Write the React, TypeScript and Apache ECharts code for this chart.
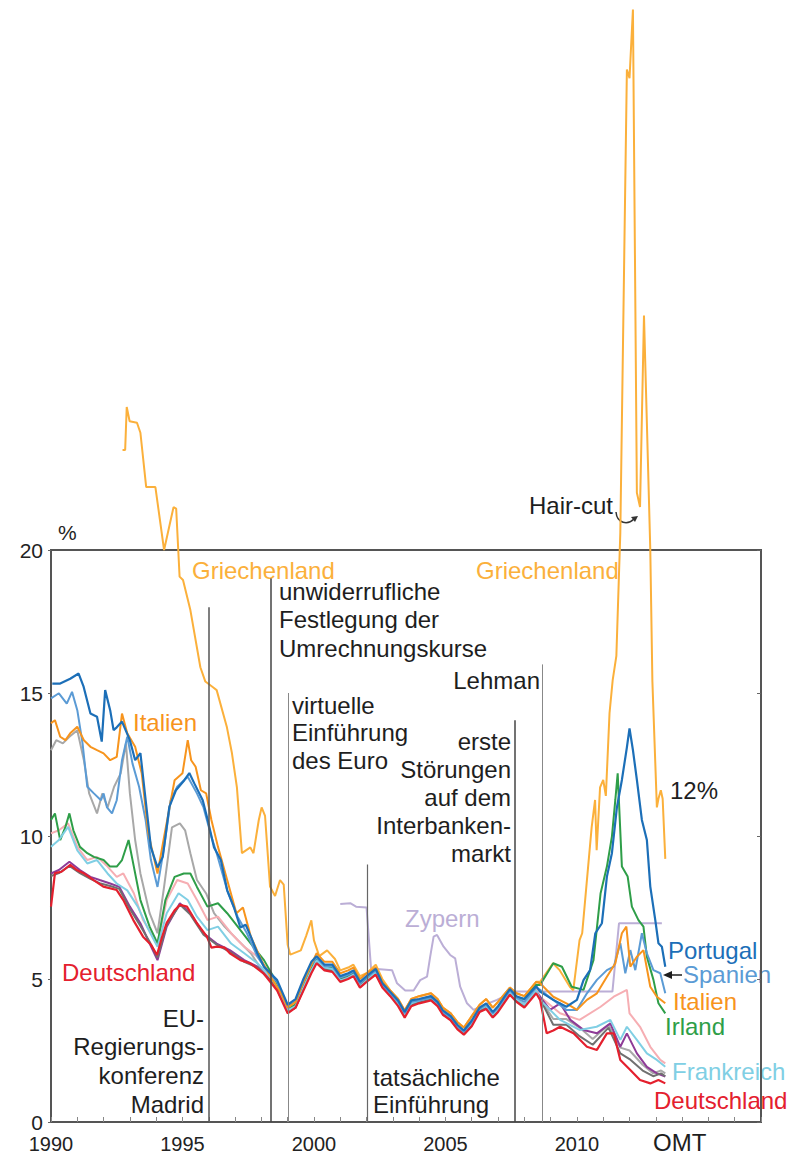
import React, { useEffect, useRef } from "react";
import * as echarts from "echarts";

type P = [number, number];

const labelYears = [1990, 1995, 2000, 2005, 2010];

const griechenland: P[] = [
  [1992.72, 23.5], [1992.82, 23.5], [1992.88, 25.0], [1992.99, 24.5], [1993.27, 24.45], [1993.4, 24.1],
  [1993.62, 22.2], [1993.97, 22.2], [1994.3, 20.0], [1994.66, 21.5], [1994.76, 21.45], [1994.89, 19.07],
  [1995.02, 18.95], [1995.3, 17.9], [1995.68, 15.9], [1995.87, 15.4], [1996.16, 15.2], [1996.3, 15.1],
  [1996.69, 13.8], [1996.88, 12.9], [1997.07, 11.7], [1997.26, 9.4], [1997.58, 9.6], [1997.7, 9.4],
  [1997.9, 10.55], [1998.01, 11.0], [1998.14, 10.7], [1998.33, 8.23], [1998.52, 7.9], [1998.71, 8.46],
  [1998.85, 8.3], [1999.0, 6.2], [1999.1, 5.85], [1999.5, 6.0], [1999.7, 6.5], [1999.9, 7.05],
  [2000.0, 6.35], [2000.2, 5.8], [2000.5, 6.0], [2000.8, 5.7], [2001.0, 5.3], [2001.3, 5.4],
  [2001.5, 5.5], [2001.75, 5.1], [2002.0, 5.2], [2002.35, 5.5], [2002.6, 5.0], [2002.9, 4.6],
  [2003.2, 4.3], [2003.45, 3.9], [2003.7, 4.3], [2004.0, 4.4], [2004.45, 4.5], [2004.7, 4.3],
  [2004.9, 4.0], [2005.2, 3.8], [2005.45, 3.5], [2005.7, 3.3], [2006.0, 3.7], [2006.3, 4.1],
  [2006.55, 4.3], [2006.8, 4.0], [2007.0, 4.2], [2007.45, 4.7], [2007.7, 4.5], [2008.0, 4.4],
  [2008.45, 4.9], [2008.6, 4.9], [2009.09, 5.55], [2009.35, 5.3], [2009.73, 4.73], [2009.86, 4.6],
  [2010.1, 6.36], [2010.2, 6.6], [2010.37, 8.35], [2010.56, 10.3], [2010.69, 11.26], [2010.75, 9.5],
  [2010.88, 11.7], [2011.0, 11.96], [2011.1, 11.4], [2011.24, 14.3], [2011.36, 15.45], [2011.5, 16.3],
  [2011.65, 20.6], [2011.9, 36.8], [2012.0, 36.5], [2012.13, 38.9], [2012.28, 22.0], [2012.4, 21.5],
  [2012.55, 28.2], [2012.79, 20.0], [2012.87, 15.4], [2013.04, 11.0], [2013.1, 11.3], [2013.19, 11.6],
  [2013.26, 11.3], [2013.36, 9.2],
];

const zypern: P[] = [
  [2001.0, 7.62], [2001.38, 7.65], [2001.6, 7.53], [2002.0, 7.5], [2002.17, 5.37], [2002.97, 5.31],
  [2003.16, 4.85], [2003.47, 4.6], [2003.79, 4.6], [2004.04, 4.96], [2004.3, 5.08], [2004.42, 5.78],
  [2004.55, 6.48], [2004.68, 6.54], [2004.93, 6.13], [2005.18, 5.84], [2005.37, 5.72], [2005.56, 4.73],
  [2005.82, 4.15], [2006.07, 3.92], [2006.5, 4.1], [2006.96, 4.27], [2007.46, 4.5], [2007.7, 4.56],
  [2011.35, 4.56], [2011.6, 6.95], [2013.23, 6.95],
];

const portugal: P[] = [
  [1990.05, 15.33], [1990.35, 15.33], [1990.73, 15.5], [1991.05, 15.68], [1991.24, 15.22], [1991.5, 14.28],
  [1991.75, 14.17], [1991.93, 13.3], [1992.06, 15.1], [1992.25, 14.4], [1992.38, 13.7], [1992.5, 13.8],
  [1992.7, 14.0], [1993.0, 13.35], [1993.2, 12.65], [1993.4, 12.9], [1993.6, 11.25], [1993.8, 9.6],
  [1994.05, 8.9], [1994.25, 9.27], [1994.5, 11.02], [1994.75, 11.6], [1995.07, 11.95], [1995.26, 12.2],
  [1995.45, 11.84], [1995.77, 11.25], [1995.96, 10.56], [1996.2, 9.6], [1996.46, 9.16], [1996.7, 8.1],
  [1996.96, 7.5], [1997.2, 6.8], [1997.4, 6.9], [1997.6, 6.48], [1997.85, 5.9], [1998.1, 5.43],
  [1998.6, 4.96], [1999.0, 4.1], [1999.3, 4.3], [1999.6, 5.0], [1999.9, 5.6], [2000.1, 5.8],
  [2000.4, 5.5], [2000.7, 5.5], [2001.0, 5.1], [2001.3, 5.2], [2001.5, 5.3], [2001.75, 4.9],
  [2002.0, 5.1], [2002.35, 5.35], [2002.6, 4.85], [2002.9, 4.55], [2003.2, 4.25], [2003.45, 3.85],
  [2003.7, 4.25], [2004.0, 4.3], [2004.45, 4.4], [2004.7, 4.2], [2004.9, 3.9], [2005.2, 3.7],
  [2005.45, 3.4], [2005.7, 3.2], [2006.0, 3.55], [2006.3, 4.0], [2006.55, 4.15], [2006.8, 3.85],
  [2007.0, 4.05], [2007.45, 4.65], [2007.7, 4.4], [2008.0, 4.3], [2008.45, 4.75], [2008.6, 4.56],
  [2009.1, 4.27], [2009.6, 4.03], [2010.0, 4.27], [2010.25, 4.96], [2010.5, 5.31], [2010.7, 6.6],
  [2010.95, 6.95], [2011.14, 8.58], [2011.33, 9.4], [2011.52, 11.0], [2011.71, 11.96], [2011.9, 13.1],
  [2012.0, 13.76], [2012.13, 13.0], [2012.28, 11.96], [2012.47, 10.56], [2012.66, 9.86], [2012.79, 8.23],
  [2012.98, 7.06], [2013.1, 6.25], [2013.23, 6.13], [2013.36, 5.43],
];

const spanien: P[] = [
  [1990.0, 14.81], [1990.3, 14.99], [1990.6, 14.63], [1990.8, 15.04], [1991.0, 14.4], [1991.2, 13.24],
  [1991.38, 11.72], [1991.63, 11.49], [1991.9, 11.25], [1992.0, 11.49], [1992.13, 11.0], [1992.32, 10.79],
  [1992.5, 11.25], [1992.7, 12.65], [1992.9, 13.47], [1993.1, 12.53], [1993.35, 11.72], [1993.6, 10.55],
  [1993.8, 9.16], [1994.05, 8.22], [1994.3, 9.6], [1994.55, 11.25], [1994.8, 11.72], [1995.2, 12.07],
  [1995.55, 11.49], [1995.8, 11.0], [1996.1, 9.97], [1996.3, 9.4], [1996.7, 8.1], [1997.1, 7.17],
  [1997.45, 6.6], [1997.85, 5.78], [1998.2, 5.31], [1998.6, 4.9], [1999.0, 4.05], [1999.3, 4.2],
  [1999.6, 4.9], [1999.9, 5.5], [2000.1, 5.75], [2000.4, 5.45], [2000.7, 5.45], [2001.0, 5.05],
  [2001.3, 5.15], [2001.5, 5.25], [2001.75, 4.85], [2002.0, 5.05], [2002.35, 5.3], [2002.6, 4.8],
  [2002.9, 4.5], [2003.2, 4.2], [2003.45, 3.8], [2003.7, 4.2], [2004.0, 4.25], [2004.45, 4.35],
  [2004.7, 4.15], [2004.9, 3.85], [2005.2, 3.65], [2005.45, 3.35], [2005.7, 3.15], [2006.0, 3.5],
  [2006.3, 3.95], [2006.55, 4.1], [2006.8, 3.8], [2007.0, 4.0], [2007.45, 4.6], [2007.7, 4.35],
  [2008.0, 4.2], [2008.45, 4.7], [2008.6, 4.62], [2009.1, 4.27], [2009.6, 3.92], [2010.0, 3.92],
  [2010.38, 4.5], [2010.76, 4.97], [2011.14, 5.31], [2011.4, 5.43], [2011.65, 6.25], [2011.84, 5.2],
  [2012.03, 6.01], [2012.22, 5.31], [2012.47, 6.6], [2012.66, 5.9], [2012.91, 5.31], [2013.17, 5.2],
  [2013.36, 4.5],
];

const italien: P[] = [
  [1990.0, 13.94], [1990.15, 14.05], [1990.35, 13.47], [1990.55, 13.35], [1990.73, 13.59], [1991.0, 13.82],
  [1991.25, 13.35], [1991.5, 13.12], [1991.75, 13.0], [1992.0, 12.89], [1992.25, 12.65], [1992.5, 12.77],
  [1992.7, 14.28], [1992.9, 13.59], [1993.2, 13.12], [1993.45, 12.19], [1993.7, 10.1], [1994.05, 8.69],
  [1994.3, 9.97], [1994.7, 11.95], [1995.0, 12.19], [1995.2, 13.35], [1995.33, 12.65], [1995.5, 12.42],
  [1995.7, 11.6], [1995.9, 11.49], [1996.1, 10.56], [1996.35, 9.62], [1996.7, 8.46], [1997.05, 7.3],
  [1997.3, 7.5], [1997.6, 6.48], [1998.0, 5.66], [1998.35, 5.08], [1998.75, 4.5], [1999.0, 4.0],
  [1999.3, 4.2], [1999.6, 4.9], [1999.9, 5.5], [2000.1, 5.9], [2000.4, 5.6], [2000.7, 5.6],
  [2001.0, 5.2], [2001.3, 5.3], [2001.5, 5.4], [2001.75, 5.0], [2002.0, 5.2], [2002.35, 5.4],
  [2002.6, 4.9], [2002.9, 4.6], [2003.2, 4.3], [2003.45, 3.9], [2003.7, 4.3], [2004.0, 4.4],
  [2004.45, 4.5], [2004.7, 4.3], [2004.9, 4.0], [2005.2, 3.8], [2005.45, 3.5], [2005.7, 3.3],
  [2006.0, 3.7], [2006.3, 4.1], [2006.55, 4.3], [2006.8, 4.0], [2007.0, 4.2], [2007.45, 4.7],
  [2007.7, 4.5], [2008.0, 4.4], [2008.45, 4.9], [2008.6, 4.85], [2009.1, 4.38], [2009.6, 4.15],
  [2010.0, 3.92], [2010.38, 4.27], [2010.76, 4.5], [2011.14, 5.08], [2011.46, 5.55], [2011.71, 6.6],
  [2011.88, 6.83], [2012.03, 5.43], [2012.28, 5.78], [2012.53, 6.01], [2012.79, 4.73], [2013.04, 4.38],
  [2013.36, 4.15],
];

const grau: P[] = [
  [1990.0, 13.0], [1990.2, 13.35], [1990.45, 13.24], [1990.7, 13.47], [1991.0, 13.7], [1991.25, 12.65],
  [1991.45, 11.49], [1991.75, 10.79], [1991.95, 11.49], [1992.15, 11.0], [1992.4, 11.72], [1992.65, 12.19],
  [1992.85, 13.24], [1993.0, 11.49], [1993.2, 9.86], [1993.4, 8.69], [1993.75, 7.3], [1994.05, 6.6],
  [1994.3, 8.22], [1994.6, 10.3], [1994.9, 10.44], [1995.1, 10.2], [1995.3, 9.4], [1995.55, 8.46],
  [1995.9, 7.99], [1996.2, 7.3], [1996.6, 6.83], [1997.1, 6.36], [1997.6, 5.9], [1998.1, 5.2],
  [1998.6, 4.73], [1999.0, 3.95], [1999.3, 4.1], [1999.6, 4.75], [1999.9, 5.35], [2000.1, 5.7],
  [2000.4, 5.4], [2000.7, 5.4], [2001.0, 5.0], [2001.3, 5.1], [2001.5, 5.2], [2001.75, 4.8],
  [2002.0, 5.0], [2002.35, 5.25], [2002.6, 4.75], [2002.9, 4.45], [2003.2, 4.15], [2003.45, 3.75],
  [2003.7, 4.15], [2004.0, 4.25], [2004.45, 4.35], [2004.7, 4.15], [2004.9, 3.85], [2005.2, 3.65],
  [2005.45, 3.35], [2005.7, 3.15], [2006.0, 3.45], [2006.3, 3.95], [2006.55, 4.05], [2006.8, 3.75],
  [2007.0, 3.95], [2007.45, 4.55], [2007.7, 4.3], [2008.0, 4.1], [2008.45, 4.6], [2008.6, 4.3],
  [2009.1, 3.6], [2009.6, 3.6], [2010.1, 3.3], [2010.6, 2.9], [2011.2, 3.4], [2011.65, 2.6],
  [2012.0, 2.5], [2012.5, 2.0], [2012.9, 1.7], [2013.2, 1.8], [2013.36, 1.7],
];

const irland: P[] = [
  [1990.0, 10.56], [1990.15, 10.79], [1990.35, 9.86], [1990.55, 10.32], [1990.7, 10.79], [1990.85, 10.2],
  [1991.1, 9.62], [1991.38, 9.4], [1991.63, 9.27], [1992.0, 9.16], [1992.25, 8.93], [1992.5, 8.93],
  [1992.7, 9.16], [1992.95, 9.86], [1993.15, 8.93], [1993.4, 7.76], [1993.75, 6.83], [1994.05, 6.24],
  [1994.35, 7.76], [1994.7, 8.57], [1995.05, 8.69], [1995.3, 8.69], [1995.55, 8.22], [1995.95, 7.53],
  [1996.35, 7.65], [1996.7, 7.3], [1997.1, 6.83], [1997.6, 6.24], [1998.1, 5.66], [1998.6, 4.85],
  [1999.0, 3.95], [1999.3, 4.1], [1999.6, 4.75], [1999.9, 5.35], [2000.1, 5.7], [2000.4, 5.4],
  [2000.7, 5.4], [2001.0, 5.0], [2001.3, 5.1], [2001.5, 5.2], [2001.75, 4.8], [2002.0, 5.0],
  [2002.35, 5.25], [2002.6, 4.75], [2002.9, 4.45], [2003.2, 4.15], [2003.45, 3.75], [2003.7, 4.15],
  [2004.0, 4.25], [2004.45, 4.35], [2004.7, 4.15], [2004.9, 3.85], [2005.2, 3.65], [2005.45, 3.35],
  [2005.7, 3.15], [2006.0, 3.45], [2006.3, 3.95], [2006.55, 4.05], [2006.8, 3.75], [2007.0, 3.95],
  [2007.45, 4.55], [2007.7, 4.35], [2008.0, 4.3], [2008.45, 4.8], [2008.6, 4.79], [2009.1, 5.55],
  [2009.43, 5.43], [2009.8, 4.73], [2010.25, 4.62], [2010.63, 5.66], [2010.9, 8.0], [2011.14, 8.93],
  [2011.33, 9.98], [2011.46, 11.26], [2011.55, 12.19], [2011.71, 8.93], [2011.93, 8.58], [2012.09, 7.53],
  [2012.34, 7.06], [2012.53, 6.83], [2012.66, 5.78], [2012.91, 4.97], [2013.1, 4.15], [2013.36, 3.8],
];

const rosa: P[] = [
  [1990.0, 10.09], [1990.3, 10.2], [1990.65, 10.44], [1991.0, 9.62], [1991.38, 9.16], [1991.75, 9.27],
  [1992.15, 8.93], [1992.5, 8.57], [1992.75, 8.69], [1993.15, 8.0], [1993.5, 7.06], [1994.05, 6.24],
  [1994.4, 7.76], [1994.8, 8.46], [1995.2, 8.34], [1995.55, 7.76], [1995.95, 7.06], [1996.35, 7.18],
  [1996.85, 6.6], [1997.35, 6.13], [1997.85, 5.78], [1998.35, 5.2], [1998.6, 4.75], [1999.0, 3.95],
  [1999.3, 4.1], [1999.6, 4.75], [1999.9, 5.35], [2000.1, 5.75], [2000.4, 5.45], [2000.7, 5.4],
  [2001.0, 5.05], [2001.3, 5.15], [2001.5, 5.25], [2001.75, 4.85], [2002.0, 5.05], [2002.35, 5.3],
  [2002.6, 4.8], [2002.9, 4.5], [2003.2, 4.2], [2003.45, 3.8], [2003.7, 4.2], [2004.0, 4.3],
  [2004.45, 4.4], [2004.7, 4.2], [2004.9, 3.9], [2005.2, 3.7], [2005.45, 3.4], [2005.7, 3.2],
  [2006.0, 3.5], [2006.3, 4.0], [2006.55, 4.1], [2006.8, 3.8], [2007.0, 4.0], [2007.45, 4.6],
  [2007.7, 4.35], [2008.0, 4.2], [2008.45, 4.65], [2008.6, 4.38], [2009.36, 3.8], [2010.1, 3.57],
  [2010.9, 4.03], [2011.4, 4.38], [2011.9, 4.62], [2012.0, 3.8], [2012.4, 3.33], [2012.79, 2.63],
  [2013.17, 2.17], [2013.36, 2.05],
];

const frankreich: P[] = [
  [1990.0, 9.62], [1990.3, 9.86], [1990.65, 10.32], [1991.0, 9.5], [1991.38, 9.04], [1991.75, 9.16],
  [1992.15, 8.69], [1992.5, 8.34], [1992.9, 8.1], [1993.3, 7.53], [1993.65, 6.83], [1994.05, 6.13],
  [1994.4, 7.3], [1994.85, 8.0], [1995.2, 7.76], [1995.55, 7.18], [1995.95, 6.71], [1996.35, 6.83],
  [1996.85, 6.24], [1997.35, 5.9], [1997.85, 5.55], [1998.35, 5.08], [1998.6, 4.7], [1999.0, 3.9],
  [1999.3, 4.05], [1999.6, 4.7], [1999.9, 5.3], [2000.1, 5.65], [2000.4, 5.4], [2000.7, 5.35],
  [2001.0, 4.95], [2001.3, 5.05], [2001.5, 5.15], [2001.75, 4.75], [2002.0, 4.95], [2002.35, 5.25],
  [2002.6, 4.75], [2002.9, 4.45], [2003.2, 4.15], [2003.45, 3.75], [2003.7, 4.15], [2004.0, 4.25],
  [2004.45, 4.35], [2004.7, 4.15], [2004.9, 3.85], [2005.2, 3.65], [2005.45, 3.35], [2005.7, 3.15],
  [2006.0, 3.45], [2006.3, 3.95], [2006.55, 4.05], [2006.8, 3.75], [2007.0, 3.95], [2007.45, 4.55],
  [2007.7, 4.3], [2008.0, 4.1], [2008.45, 4.6], [2008.6, 4.27], [2009.36, 3.57], [2010.1, 3.22],
  [2010.75, 3.33], [2011.27, 3.57], [2011.65, 2.87], [2011.9, 3.33], [2012.28, 2.87], [2012.66, 2.4],
  [2013.04, 2.17], [2013.36, 1.93],
];

const lila: P[] = [
  [1990.0, 8.69], [1990.3, 8.81], [1990.7, 9.1], [1991.1, 8.81], [1991.5, 8.57], [1991.85, 8.46],
  [1992.25, 8.34], [1992.6, 8.22], [1993.0, 7.53], [1993.4, 6.95], [1993.75, 6.24], [1994.05, 5.66],
  [1994.4, 6.83], [1994.9, 7.65], [1995.3, 7.3], [1995.8, 6.6], [1996.3, 6.24], [1996.8, 6.01],
  [1997.35, 5.66], [1997.85, 5.43], [1998.35, 4.96], [1998.6, 4.65], [1999.0, 3.85], [1999.3, 4.0],
  [1999.6, 4.65], [1999.9, 5.25], [2000.1, 5.6], [2000.4, 5.35], [2000.7, 5.3], [2001.0, 4.95],
  [2001.3, 5.05], [2001.5, 5.15], [2001.75, 4.75], [2002.0, 4.95], [2002.35, 5.2], [2002.6, 4.75],
  [2002.9, 4.45], [2003.2, 4.1], [2003.45, 3.7], [2003.7, 4.1], [2004.0, 4.2], [2004.45, 4.3],
  [2004.7, 4.1], [2004.9, 3.8], [2005.2, 3.6], [2005.45, 3.3], [2005.7, 3.1], [2006.0, 3.4],
  [2006.3, 3.9], [2006.55, 4.0], [2006.8, 3.7], [2007.0, 3.9], [2007.45, 4.5], [2007.7, 4.25],
  [2008.0, 4.05], [2008.45, 4.55], [2008.6, 4.38], [2008.98, 3.92], [2009.36, 4.15], [2009.75, 3.57],
  [2010.25, 3.22], [2010.76, 3.1], [2011.27, 3.45], [2011.65, 2.63], [2011.9, 3.1], [2012.28, 2.4],
  [2012.66, 1.93], [2013.04, 1.7], [2013.36, 1.59],
];

const dunkelgrau: P[] = [
  [1990.0, 8.6], [1990.3, 8.7], [1990.7, 8.95], [1991.1, 8.7], [1991.5, 8.5], [1991.85, 8.35],
  [1992.25, 8.25], [1992.6, 8.15], [1993.0, 7.45], [1993.4, 6.85], [1993.75, 6.3], [1994.05, 5.75],
  [1994.4, 6.9], [1994.9, 7.6], [1995.3, 7.25], [1995.8, 6.55], [1996.3, 6.2], [1996.8, 5.95],
  [1997.35, 5.6], [1997.85, 5.4], [1998.35, 4.95], [1998.6, 4.62], [1999.0, 3.85], [1999.3, 4.0],
  [1999.6, 4.65], [1999.9, 5.25], [2000.1, 5.6], [2000.4, 5.35], [2000.7, 5.3], [2001.0, 4.95],
  [2001.3, 5.05], [2001.5, 5.15], [2001.75, 4.75], [2002.0, 4.95], [2002.35, 5.2], [2002.6, 4.75],
  [2002.9, 4.45], [2003.2, 4.1], [2003.45, 3.7], [2003.7, 4.1], [2004.0, 4.2], [2004.45, 4.3],
  [2004.7, 4.1], [2004.9, 3.8], [2005.2, 3.6], [2005.45, 3.3], [2005.7, 3.1], [2006.0, 3.4],
  [2006.3, 3.9], [2006.55, 4.0], [2006.8, 3.7], [2007.0, 3.9], [2007.45, 4.5], [2007.7, 4.25],
  [2008.0, 4.05], [2008.45, 4.55], [2008.6, 4.3], [2009.1, 3.4], [2009.6, 3.4], [2010.1, 3.0],
  [2010.6, 2.7], [2011.2, 3.3], [2011.65, 2.4], [2012.0, 2.2], [2012.5, 1.8], [2012.9, 1.6],
  [2013.2, 1.7], [2013.36, 1.6],
];

const deutschland: P[] = [
  [1990.0, 7.53], [1990.15, 8.7], [1990.4, 8.75], [1990.73, 8.99], [1991.0, 8.8], [1991.24, 8.7],
  [1991.62, 8.46], [1991.99, 8.23], [1992.5, 8.11], [1992.75, 7.76], [1993.13, 7.06], [1993.5, 6.48],
  [1993.8, 6.2], [1994.03, 5.84], [1994.2, 6.4], [1994.4, 6.96], [1994.7, 7.4], [1994.9, 7.59],
  [1995.17, 7.53], [1995.55, 6.95], [1995.93, 6.48], [1996.1, 6.1], [1996.31, 6.13], [1996.6, 6.1],
  [1996.8, 5.9], [1997.2, 5.66], [1997.58, 5.55], [1998.08, 5.2], [1998.6, 4.6], [1998.85, 4.1],
  [1999.0, 3.8], [1999.3, 4.0], [1999.6, 4.6], [1999.9, 5.2], [2000.1, 5.55], [2000.4, 5.3],
  [2000.7, 5.25], [2001.0, 4.9], [2001.3, 5.0], [2001.5, 5.1], [2001.75, 4.7], [2002.0, 4.9],
  [2002.35, 5.15], [2002.6, 4.7], [2002.9, 4.4], [2003.2, 4.05], [2003.45, 3.65], [2003.7, 4.05],
  [2004.0, 4.15], [2004.45, 4.25], [2004.7, 4.05], [2004.9, 3.75], [2005.2, 3.55], [2005.45, 3.25],
  [2005.7, 3.05], [2006.0, 3.35], [2006.3, 3.85], [2006.55, 3.95], [2006.8, 3.65], [2007.0, 3.85],
  [2007.45, 4.45], [2007.7, 4.2], [2008.0, 4.0], [2008.45, 4.5], [2008.6, 4.27], [2008.85, 3.1],
  [2009.1, 3.2], [2009.36, 3.33], [2009.87, 3.1], [2010.38, 2.63], [2010.76, 2.52], [2011.14, 3.1],
  [2011.4, 3.1], [2011.65, 2.17], [2012.03, 1.82], [2012.4, 1.47], [2012.79, 1.35], [2013.1, 1.47],
  [2013.36, 1.35],
];

const eventYears = [1995.99, 1998.36, 1999.03, 2002.01, 2007.63, 2008.69, 2012.72];
const eventTops = [18.0, 19.0, 15.0, 9.0, 14.05, 16.0, 9.9];
const eventBottoms = [0, 0, 0, 0, 0, 0, -1.0];

const FONT = '"Liberation Sans", Arial, sans-serif';

function textEl(text: string, x: number, y: number, color: string, align: string, size = 24) {
  return {
    type: "text",
    x,
    y,
    silent: true,
    style: {
      text,
      fill: color,
      font: `${size}px ${FONT}`,
      textAlign: align,
      align,
      textVerticalAlign: "middle",
      verticalAlign: "middle",
    },
  };
}

function block(lines: string[], x: number, y0: number, dy: number, color: string, align: string) {
  return lines.map((t, i) => textEl(t, x, y0 + i * dy, color, align));
}

const C = {
  gr: "#FBB03B",
  it: "#F7941D",
  pt: "#1C6FB8",
  es: "#5B9BD5",
  ie: "#2E9E48",
  fr: "#80CFE4",
  de: "#E4202E",
  cy: "#BBAED6",
  grau: "#A8A8A8",
  rosa: "#F6AEB3",
  lila: "#8E3B97",
  dgrau: "#707070",
  ink: "#1E1E1E",
};

export default function App() {
  const ref = useRef<HTMLDivElement>(null);
  useEffect(() => {
    if (!ref.current) return;
    document.body.style.margin = "0";
    const chart = echarts.init(ref.current, undefined, { renderer: "svg" });
    const line = (name: string, data: P[], color: string, width = 2) => ({
      name,
      type: "line",
      data,
      showSymbol: false,
      symbol: "none",
      clip: false,
      lineStyle: { color, width },
      itemStyle: { color },
      emphasis: { disabled: true },
    });
    const evStyle = [
      { color: "#555", width: 1.5, type: "solid" },
      { color: "#444", width: 1.5, type: "solid" },
      { color: "#888", width: 1, type: "solid" },
      { color: "#666", width: 1.2, type: "solid" },
      { color: "#444", width: 1.5, type: "solid" },
      { color: "#888", width: 1, type: "solid" },
      { color: "#444", width: 1.5, type: "solid" },
    ];
    const option: any = {
      animation: false,
      grid: {
        left: 51,
        right: 27,
        top: 550,
        bottom: 38,
        show: true,
        borderColor: "#555",
        borderWidth: 2,
        backgroundColor: "transparent",
      },
      xAxis: {
        type: "value",
        min: 1990,
        max: 2017,
        interval: 1,
        axisLine: { show: true, lineStyle: { color: "#555", width: 2 } },
        axisTick: { show: true, inside: true, length: 5, lineStyle: { color: "#888", width: 1 } },
        axisLabel: {
          color: "#222",
          fontSize: 20,
          fontFamily: FONT,
          margin: 12,
          formatter: (v: number) => (labelYears.includes(Math.round(v)) ? String(Math.round(v)) : ""),
        },
        splitLine: { show: false },
      },
      yAxis: [
        {
          type: "value",
          min: 0,
          max: 20,
          interval: 5,
          axisLine: { show: true, lineStyle: { color: "#555", width: 2 } },
          axisTick: { show: true, inside: false, length: 3, lineStyle: { color: "#666" } },
          axisLabel: { color: "#222", fontSize: 21, fontFamily: FONT, margin: 8 },
          splitLine: { show: false },
        },
        {
          type: "value",
          position: "right",
          min: 0,
          max: 20,
          interval: 5,
          axisLine: { show: true, lineStyle: { color: "#555", width: 2 } },
          axisTick: { show: true, inside: true, length: 4, lineStyle: { color: "#666" } },
          axisLabel: { show: false },
          splitLine: { show: false },
        },
      ],
      series: [
        {
          name: "events",
          type: "line",
          data: [],
          silent: true,
          clip: false,
          markLine: {
            silent: true,
            symbol: "none",
            animation: false,
            label: { show: false },
            data: eventYears.map((yr, i) => [
              { coord: [yr, eventTops[i]], lineStyle: evStyle[i] },
              { coord: [yr, eventBottoms[i]] },
            ]),
          },
        },
        line("Zypern", zypern, C.cy, 2),
        line("Griechenland", griechenland, C.gr, 2),
        line("Grau", grau, C.grau, 2),
        line("Rosa", rosa, C.rosa, 2),
        line("Irland", irland, C.ie, 2),
        line("Lila", lila, C.lila, 2),
        line("Dunkelgrau", dunkelgrau, C.dgrau, 2),
        line("Frankreich", frankreich, C.fr, 2),
        line("Spanien", spanien, C.es, 2),
        line("Italien", italien, C.it, 2),
        line("Portugal", portugal, C.pt, 2.2),
        line("Deutschland", deutschland, C.de, 2.2),
      ],
      graphic: [
        {
          type: "group",
          x: 0,
          y: 0,
          silent: true,
          children: [
            textEl("%", 58, 532, C.ink, "left", 21),
            textEl("Griechenland", 192, 570, C.gr, "left"),
            textEl("Griechenland", 476, 570, C.gr, "left"),
            ...block(["unwiderrufliche", "Festlegung der", "Umrechnungskurse"], 279, 591, 28.5, C.ink, "left"),
            textEl("Italien", 133, 722, C.it, "left"),
            ...block(["virtuelle", "Einführung", "des Euro"], 292, 705, 27.5, C.ink, "left"),
            textEl("Lehman", 540, 680, C.ink, "right"),
            ...block(["erste", "Störungen", "auf dem", "Interbanken-", "markt"], 511, 741, 28, C.ink, "right"),
            textEl("Zypern", 405, 918, C.cy, "left"),
            textEl("Deutschland", 62, 972, C.de, "left"),
            ...block(["EU-", "Regierungs-", "konferenz", "Madrid"], 204, 1018, 28.7, C.ink, "right"),
            ...block(["tatsächliche", "Einführung"], 373, 1077, 27.5, C.ink, "left"),
            textEl("Hair-cut", 613, 505, C.ink, "right"),
            textEl("12%", 670, 790, C.ink, "left"),
            textEl("Portugal", 668, 950, C.pt, "left"),
            textEl("Spanien", 683, 974, C.es, "left"),
            textEl("Italien", 673, 1001, C.it, "left"),
            textEl("Irland", 665, 1026, C.ie, "left"),
            textEl("Frankreich", 672, 1071, C.fr, "left"),
            textEl("Deutschland", 654, 1100, C.de, "left"),
            textEl("OMT", 653, 1142, C.ink, "left"),
            {
              type: "line",
              silent: true,
              shape: { x1: 682, y1: 975, x2: 670, y2: 975 },
              style: { stroke: C.ink, lineWidth: 1.5 },
            },
            {
              type: "polygon",
              silent: true,
              shape: { points: [[663, 975], [672, 971], [672, 979]] },
              style: { fill: C.ink },
            },
            {
              type: "bezierCurve",
              silent: true,
              shape: { x1: 616, y1: 512, cpx1: 617, cpy1: 524, cpx2: 628, cpy2: 525, x2: 634, y2: 519 },
              style: { stroke: "#333", lineWidth: 1.5, fill: "none" },
            },
            {
              type: "polygon",
              silent: true,
              shape: { points: [[638, 516], [631, 517], [635, 522]] },
              style: { fill: "#333" },
            },
          ],
        },
      ],
    };
    chart.setOption(option);
    return () => {
      chart.dispose();
    };
  }, []);
  return <div ref={ref} style={{ width: 788, height: 1160 }} />;
}
